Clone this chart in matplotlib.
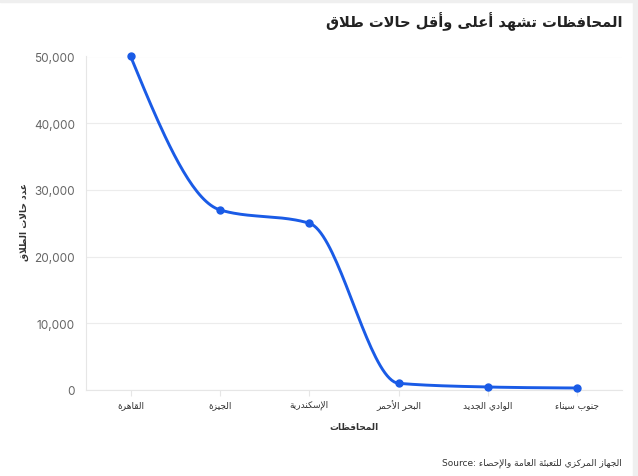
import numpy as np
import matplotlib
matplotlib.use('Agg')
import matplotlib.pyplot as plt

# data
categories = ['القاهرة', 'الجيزة', 'الإسكندرية', 'البحر الأحمر', 'الوادي الجديد', 'جنوب سيناء']
values = [50000, 27000, 25000, 1000, 450, 300]
yticks = [0, 10000, 20000, 30000, 40000, 50000]
title = 'المحافظات تشهد أعلى وأقل حالات طلاق'
xlabel = 'المحافظات'
ylabel = 'عدد حالات الطلاق'
source = 'الجهاز المركزي للتعبئة العامة والإحصاء'

# --- minimal arabic shaping (matplotlib has no bidi / joining) ---
DUAL = {'ئ': 0xFE89, 'ب': 0xFE8F, 'ت': 0xFE95, 'ث': 0xFE99, 'ج': 0xFE9D, 'ح': 0xFEA1,
        'خ': 0xFEA5, 'س': 0xFEB1, 'ش': 0xFEB5, 'ص': 0xFEB9, 'ض': 0xFEBD, 'ط': 0xFEC1,
        'ظ': 0xFEC5, 'ع': 0xFEC9, 'غ': 0xFECD, 'ف': 0xFED1, 'ق': 0xFED5, 'ك': 0xFED9,
        'ل': 0xFEDD, 'م': 0xFEE1, 'ن': 0xFEE5, 'ه': 0xFEE9, 'ي': 0xFEF1}
RIGHT = {'آ': 0xFE81, 'أ': 0xFE83, 'ؤ': 0xFE85, 'إ': 0xFE87, 'ا': 0xFE8D, 'ة': 0xFE93,
         'د': 0xFEA9, 'ذ': 0xFEAB, 'ر': 0xFEAD, 'ز': 0xFEAF, 'و': 0xFEED, 'ى': 0xFEEF,
         'لآ': 0xFEF5, 'لأ': 0xFEF7, 'لإ': 0xFEF9, 'لا': 0xFEFB}
NONE = {'ء': 0xFE80}


def shape(s):
    toks = []
    i = 0
    while i < len(s):
        if s[i] == 'ل' and i + 1 < len(s) and s[i + 1] in 'اأإآ':
            toks.append(s[i:i + 2])
            i += 2
        else:
            toks.append(s[i])
            i += 1
    out = []
    for k, t in enumerate(toks):
        prev = toks[k - 1] if k > 0 else None
        nxt = toks[k + 1] if k + 1 < len(toks) else None
        jp = prev in DUAL
        jn = nxt in DUAL or nxt in RIGHT or nxt in NONE
        if t in DUAL:
            b = DUAL[t]
            if jp and jn:
                out.append(chr(b + 3))
            elif jp:
                out.append(chr(b + 1))
            elif jn:
                out.append(chr(b + 2))
            else:
                out.append(chr(b))
        elif t in RIGHT:
            out.append(chr(RIGHT[t] + (1 if jp else 0)))
        elif t in NONE:
            out.append(chr(NONE[t]))
        else:
            out.append(t)
    return ''.join(out)[::-1]


def monotone(xs, ys, n=40):
    # d3 curveMonotoneX style path
    xs = np.asarray(xs, float)
    ys = np.asarray(ys, float)
    h = np.diff(xs)
    s = np.diff(ys) / h
    m = np.zeros(len(xs))
    for i in range(1, len(xs) - 1):
        p = (s[i - 1] * h[i] + s[i] * h[i - 1]) / (h[i - 1] + h[i])
        m[i] = (np.sign(s[i - 1]) + np.sign(s[i])) * min(abs(s[i - 1]), abs(s[i]), 0.5 * abs(p))
    m[0] = (3 * s[0] - m[1]) / 2
    m[-1] = (3 * s[-1] - m[-2]) / 2
    px, py = [], []
    for i in range(len(xs) - 1):
        t = np.linspace(0, 1, n)
        h00 = 2 * t**3 - 3 * t**2 + 1
        h10 = t**3 - 2 * t**2 + t
        h01 = -2 * t**3 + 3 * t**2
        h11 = t**3 - t**2
        px.extend(xs[i] + t * h[i])
        py.extend(h00 * ys[i] + h10 * h[i] * m[i] + h01 * ys[i + 1] + h11 * h[i] * m[i + 1])
    return px, py


plt.rcParams['font.family'] = ['DejaVu Sans']

fig = plt.figure(figsize=(6.38, 4.77), dpi=100)
fig.patch.set_facecolor('white')
# thin grey frame strips of the page
fig.patches.append(plt.Rectangle((0, 1 - 3 / 477), 1, 3 / 477, transform=fig.transFigure,
                                 color='#efefef', zorder=0))
fig.patches.append(plt.Rectangle((633 / 638, 0), 5 / 638, 1, transform=fig.transFigure,
                                 color='#efefef', zorder=0))

ax = fig.add_axes([86 / 638, 86 / 477, 536 / 638, 333.5 / 477])
x = np.arange(len(categories))
cx, cy = monotone(x, values)
col = '#1a5be6'
ax.plot(cx, cy, color=col, lw=2.1, solid_capstyle='round', zorder=3, clip_on=False)
ax.plot(x, values, 'o', color=col, ms=5, zorder=4, clip_on=False)

ax.set_xlim(-0.5, len(categories) - 0.5)
ax.set_ylim(0, 50000)
ax.set_yticks(yticks)
ax.set_yticklabels([f'{v:,}' for v in yticks], fontfamily='Inter', color='#666666', fontsize=8.5)
ax.set_xticks(x)
ax.set_xticklabels([shape(c) for c in categories], fontsize=6.5, color='#333333')
ax.grid(axis='y', color='#ececec', lw=0.8)
ax.set_axisbelow(True)
for sp in ['top', 'right']:
    ax.spines[sp].set_visible(False)
ax.spines['left'].set_color('#e6e6e6')
ax.spines['bottom'].set_color('#e6e6e6')
ax.tick_params(axis='y', length=0, pad=8)
ax.tick_params(axis='x', length=4, color='#e6e6e6', pad=3)

ax.set_xlabel(shape(xlabel), fontsize=6.5, fontweight='bold', color='#333333', labelpad=8)
fig.text(24 / 638, 1 - 222 / 477, shape(ylabel), rotation=90, ha='center', va='center',
         fontsize=6.5, fontweight='bold', color='#333333')

fig.text(622 / 638, 1 - 22 / 477, shape(title), ha='right', va='center',
         fontsize=10.5, fontweight='bold', color='#222222')
fig.text(622 / 638, 1 - 463 / 477, 'Source: ' + shape(source), ha='right', va='center',
         fontsize=6.5, color='#333333')

fig.savefig('out.png', dpi=100)
